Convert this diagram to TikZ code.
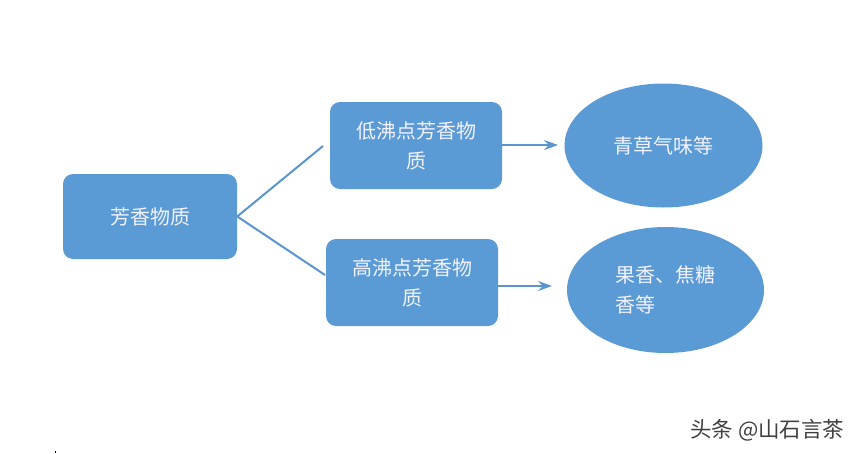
\documentclass[tikz,border=0pt]{standalone}
\usepackage{fontspec}
\newfontfamily\cjk{Noto Sans CJK SC}
\usetikzlibrary{arrows.meta,shapes.geometric}
\definecolor{boxblue}{HTML}{5B9BD5}
\definecolor{lineblue}{HTML}{5B95CF}
\begin{document}
\begin{tikzpicture}[x=1pt,y=-1pt,
  txt/.style={text=white!95!blue,font=\cjk\fontsize{20}{30}\selectfont,align=center},
  rbox/.style={txt,fill=boxblue,rounded corners=10pt,inner sep=0pt},
  oval/.style={txt,fill=boxblue,ellipse,inner sep=0pt},
  link/.style={draw=lineblue,line width=2pt},
  arr/.style={link,-{Stealth[length=14pt,width=10pt,inset=5pt]}}]
\useasboundingbox (0,0) rectangle (860,453);
\fill[white] (0,0) rectangle (860,453);
\node[rbox,minimum width=174pt,minimum height=85pt] (a) at (150,216.5) {芳香物质};
\node[rbox,minimum width=172pt,minimum height=87pt] (b) at (416,145.5) {低沸点芳香物\\质};
\node[rbox,minimum width=172pt,minimum height=87pt] (c) at (412,282.5) {高沸点芳香物\\质};
\node[oval,minimum width=198pt,minimum height=124pt] (d) at (663.5,145.5) {青草气味等};
\node[oval,minimum width=197pt,minimum height=126pt,align=left] (e) at (665.5,290) {果香、焦糖\\香等};
\coordinate (bin) at (323,146);
\coordinate (cin) at (325,275);
\coordinate (dend) at (558,145);
\coordinate (eend) at (552,286);
\draw[link] (a.east) -- (bin);
\draw[link] (a.east) -- (cin);
\draw[arr] (b.east |- dend) -- (dend);
\draw[arr] (c.east |- eend) -- (eend);
\node[text=black!75,font=\cjk\fontsize{21.5}{24}\selectfont,anchor=west,inner sep=0pt] (wm) at (690,430) {头条 @山石言茶};
\fill[black] (54.5,451) rectangle (55.5,453);
\end{tikzpicture}
\end{document}
